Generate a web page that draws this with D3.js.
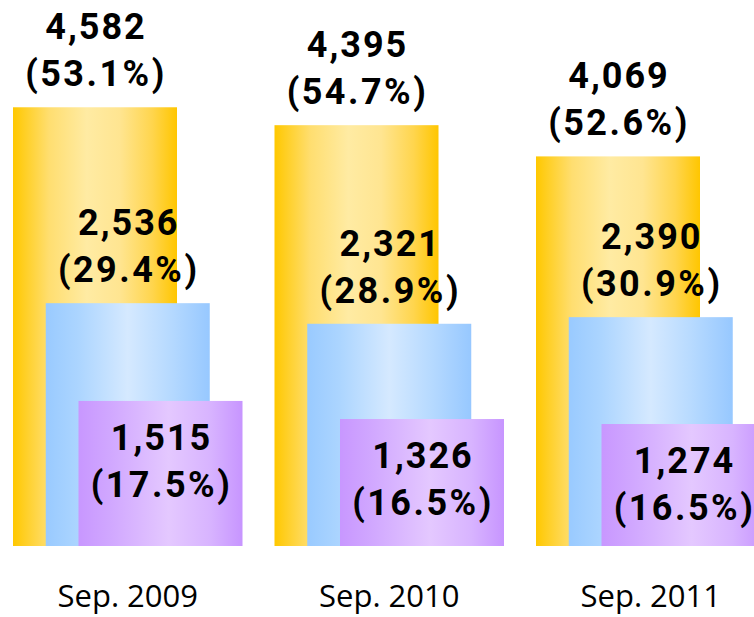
<!DOCTYPE html>
<html>
<head>
<meta charset="utf-8">
<script src="https://cdn.jsdelivr.net/npm/d3@7"></script>
<style>
  html, body { margin: 0; padding: 0; background: #fff; }
  svg { display: block; }
</style>
</head>
<body>
<svg id="chart" width="754" height="617"></svg>
<script>
const categories = ["Sep. 2009", "Sep. 2010", "Sep. 2011"];
const seriesNames = ["s1", "s2", "s3"];
const values1 = [4582, 4395, 4069];
const values2 = [2536, 2321, 2390];
const values3 = [1515, 1326, 1274];
const pct1 = ["53.1%", "54.7%", "52.6%"];
const pct2 = ["29.4%", "28.9%", "30.9%"];
const pct3 = ["17.5%", "16.5%", "16.5%"];

const W = 754, H = 617;
const svg = d3.select("#chart");

const baseY = 546;
const y = d3.scaleLinear().domain([0, 5000]).range([baseY, baseY - 0.09575 * 5000]);
const x = d3.scaleBand().domain(categories).range([13, 13 + 3 * 261.5]).paddingInner(0).paddingOuter(0);
const off = d3.scalePoint().domain(seriesNames).range([0, 65.5]);
const barW = 164;

const gradients = [
  { id: "gY", stops: [["0%", "#ffc800"], ["22%", "#ffde70"], ["45%", "#ffeba3"], ["65%", "#ffe591"], ["85%", "#ffd54d"], ["100%", "#ffc600"]] },
  { id: "gB", stops: [["0%", "#99caff"], ["20%", "#acd5ff"], ["50%", "#d5e9ff"], ["75%", "#b7daff"], ["100%", "#97c8ff"]] },
  { id: "gP", stops: [["0%", "#c897ff"], ["20%", "#d1a8ff"], ["55%", "#e4c8ff"], ["80%", "#d8b4ff"], ["100%", "#c795ff"]] }
];
const defs = svg.append("defs");
gradients.forEach(g => {
  const lg = defs.append("linearGradient").attr("id", g.id)
    .attr("x1", "0%").attr("x2", "100%").attr("y1", "0%").attr("y2", "0%");
  g.stops.forEach(s => lg.append("stop").attr("offset", s[0]).attr("stop-color", s[1]));
});

const series = [
  { name: "s1", values: values1, pct: pct1, grad: "gY", inside: false },
  { name: "s2", values: values2, pct: pct2, grad: "gB", inside: false },
  { name: "s3", values: values3, pct: pct3, grad: "gP", inside: true }
];

// bars
series.forEach(s => {
  svg.append("g").selectAll("rect").data(categories).join("rect")
    .attr("x", (c) => x(c) + off(s.name))
    .attr("y", (c, i) => y(s.values[i]))
    .attr("width", barW)
    .attr("height", (c, i) => baseY - y(s.values[i]))
    .attr("fill", `url(#${s.grad})`);
});

// labels
const fmt = d3.format(",");
const labelFont = "Roboto, 'DejaVu Sans', sans-serif";
series.forEach(s => {
  const g = svg.append("g");
  categories.forEach((c, i) => {
    const cx = x(c) + off(s.name) + barW / 2 + 1;
    const top = y(s.values[i]);
    const b2 = s.inside ? top + 96 : top - 21;
    const b1 = b2 - 47;
    const t = g.append("text")
      .attr("text-anchor", "middle")
      .attr("font-family", labelFont)
      .attr("font-weight", "bold")
      .attr("font-size", 36)
      .attr("letter-spacing", 2)
      .attr("fill", "#000");
    t.append("tspan").attr("x", cx).attr("y", b1).text(fmt(s.values[i]));
    t.append("tspan").attr("x", cx).attr("y", b2).attr("letter-spacing", 2.5).text("(" + s.pct[i] + ")");
  });
});

// x axis labels
svg.append("g").selectAll("text").data(categories).join("text")
  .attr("x", c => x(c) + off("s2") + barW / 2)
  .attr("y", 607)
  .attr("text-anchor", "middle")
  .attr("font-family", "'Open Sans', sans-serif")
  .attr("font-size", 31)
  .attr("fill", "#000")
  .text(c => c);
</script>
</body>
</html>
